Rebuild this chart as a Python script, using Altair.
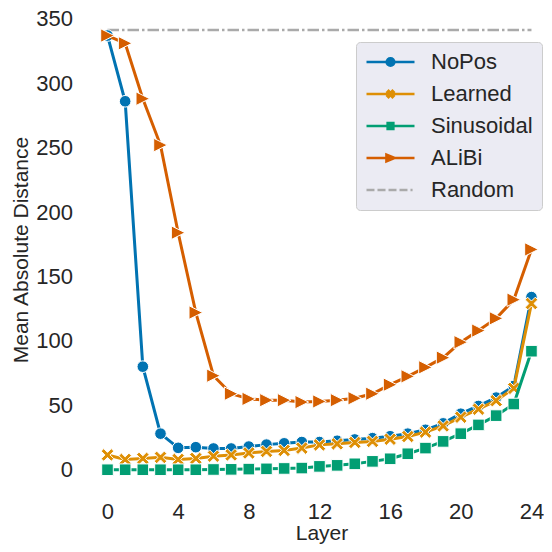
import altair as alt
import pandas as pd

layers = list(range(25))
nopos = [337, 286, 80, 28, 17, 17.5, 16.5, 16.5, 18, 19.5, 20.5, 21.5, 21.5, 22.5, 23.5, 24.5, 26, 28, 31, 36, 43.5, 49.5, 56, 65, 134]
learned = [11.5, 8, 8.8, 9.6, 8, 8.8, 10.5, 11.5, 13, 14.2, 15, 16.8, 19.3, 20.1, 21.2, 22, 23.7, 25.8, 29.2, 34, 40.8, 47, 53.6, 63.2, 129]
sinusoidal = [0, 0, 0, 0, 0, 0, 0.2, 0.3, 0.5, 0.7, 1, 1.3, 2.6, 3.4, 4.6, 6.5, 8.5, 12.4, 16.8, 22, 28, 34.8, 42, 51, 92]
alibi = [337, 331, 288, 252, 184, 122, 73, 59, 55, 54, 54, 52.5, 53, 54, 55.5, 59, 66, 72.5, 79.5, 87, 99, 108, 117.5, 132, 171]
random_layers = [0, 24]
random_values = [341.3, 341.3]

series_names = ["NoPos", "Learned", "Sinusoidal", "ALiBi", "Random"]
x_ticks = [0, 4, 8, 12, 16, 20, 24]
y_ticks = [0, 50, 100, 150, 200, 250, 300, 350]

# styles
series_colors = ["#0173b2", "#de8f05", "#029e73", "#d55e00", "#aaaaaa"]
X_PATH = "M-1,-0.6L-0.6,-1L0,-0.4L0.6,-1L1,-0.6L0.4,0L1,0.6L0.6,1L0,0.4L-0.6,1L-1,0.6L-0.4,0Z"
marker_shapes = ["circle", X_PATH, "square", "M1,0L-1,-1L-1,1Z"]
marker_sizes = [135, 160, 135, 185]

LINE = "M-1,0L1,0"
legend_paths = [
    LINE + "M-0.16,0A0.16,0.16,0,1,1,0.16,0A0.16,0.16,0,1,1,-0.16,0Z",
    LINE + "M-0.13,-0.08L-0.08,-0.13L0,-0.05L0.08,-0.13L0.13,-0.08L0.05,0L0.13,0.08L0.08,0.13L0,0.05L-0.08,0.13L-0.13,0.08L-0.05,0Z",
    LINE + "M-0.12,-0.12L0.12,-0.12L0.12,0.12L-0.12,0.12Z",
    LINE + "M0.17,0L-0.17,-0.14L-0.17,0.14Z",
    "M-1,0L-0.667,0M-0.542,0L-0.208,0M-0.083,0L0.25,0M0.375,0L0.708,0M0.833,0L0.92,0",
]

rows = []
for name, vals in zip(series_names[:4], [nopos, learned, sinusoidal, alibi]):
    for l, v in zip(layers, vals):
        rows.append({"layer": l, "value": v, "series": name})
df = pd.DataFrame(rows)
rand_df = pd.DataFrame({"layer": random_layers, "value": random_values, "series": "Random"})
legend_df = pd.DataFrame({"series": series_names})

xscale = alt.Scale(domain=[-1.132, 24.71], nice=False, zero=False)
yscale = alt.Scale(domain=[-16.5, 358.4], nice=False, zero=False)
xaxis = alt.Axis(values=x_ticks, title="Layer", labelPadding=10, titleX=234, titleY=48.5,
                 titleBaseline="alphabetic", titleAlign="center", titleFontSize=21)
yaxis = alt.Axis(values=y_ticks, title="Mean Absolute Distance", labelPadding=15,
                 titleX=-60.5, titleY=241.5, titleAngle=270, titleBaseline="alphabetic",
                 titleAlign="center", titleFontSize=21)

def enc(ch):
    return ch.encode(
        x=alt.X("layer:Q", scale=xscale, axis=xaxis),
        y=alt.Y("value:Q", scale=yscale, axis=yaxis),
    )

layers_list = [
    enc(alt.Chart(rand_df).mark_line(color=series_colors[4], strokeWidth=2.6, strokeDash=[11.5, 3, 2.5, 3]))
]
for i, name in enumerate(series_names[:4]):
    sub = df[df["series"] == name]
    layers_list.append(enc(alt.Chart(sub).mark_line(color=series_colors[i], strokeWidth=3)))
    layers_list.append(enc(alt.Chart(sub).mark_point(filled=True, fill=series_colors[i], stroke="white",
                                                     strokeWidth=1, size=marker_sizes[i],
                                                     shape=marker_shapes[i], opacity=1)))

legend = alt.Legend(title=None, orient="none", legendX=268.5, legendY=34, symbolSize=2304,
                    symbolStrokeWidth=2.5, symbolOpacity=1, labelFont="Liberation Sans",
                    labelFontSize=22, labelColor="#262626", labelOffset=15, padding=9,
                    rowPadding=10, fillColor="#ebebf3", strokeColor="#cccccc", cornerRadius=4,
                    clipHeight=22)

legend_layer = alt.Chart(legend_df).mark_point(filled=True, opacity=0).encode(
    fill=alt.Fill("series:N", scale=alt.Scale(domain=series_names, range=series_colors), legend=legend),
    stroke=alt.Stroke("series:N", scale=alt.Scale(domain=series_names, range=series_colors), legend=legend),
    shape=alt.Shape("series:N", scale=alt.Scale(domain=series_names, range=legend_paths), legend=legend),
)
layers_list.append(legend_layer)

chart = alt.layer(*layers_list).properties(
    width=456.5, height=483,
    padding={"left": 79.5, "top": 0, "right": 0, "bottom": 53},
    autosize=alt.AutoSizeParams(type="none"),
    background="white",
).configure_axis(
    labelFont="Liberation Sans", labelFontSize=22, labelColor="#262626",
    titleFont="Liberation Sans", titleColor="#262626", titleFontWeight="normal",
    domain=False, ticks=False, gridColor="white", gridWidth=1.8,
).configure_view(fill="#eaeaf2", strokeWidth=0)

chart.save("out.html", embed_options={"renderer": "svg", "actions": False})
